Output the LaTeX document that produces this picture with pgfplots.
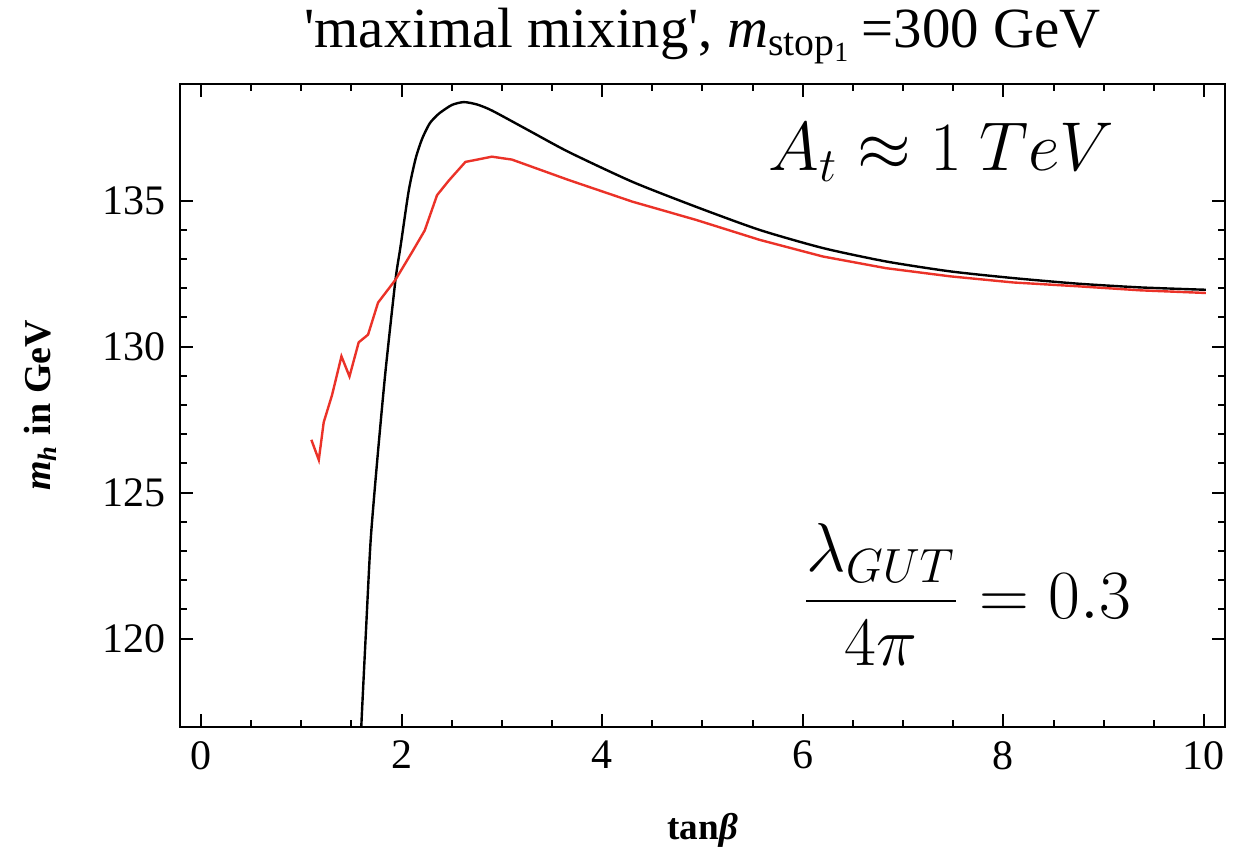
\documentclass[border=0pt]{standalone}
\usepackage{fontspec}
\setmainfont{Liberation Serif}
\usepackage{pgfplots}
\pgfplotsset{compat=1.18}
\definecolor{mred}{RGB}{235,50,40}
\begin{document}
\begin{tikzpicture}
\path[use as bounding box] (-45pt,-32.5pt) rectangle (268.75pt,181.75pt);
\begin{axis}[
  at={(0,0)}, anchor=south west,
  scale only axis,
  width=261.25pt, height=160.75pt,
  xmin=-0.21, xmax=10.21, ymin=116.97, ymax=139,
  xtick={0,2,...,10}, minor x tick num=3,
  ytick={120,125,130,135}, minor y tick num=4,
  major tick length=3.3pt, minor tick length=1.75pt,
  tick style={black, line width=0.5pt},
  axis line style={line width=0.7pt},
  tick label style={font=\fontsize{10.5}{12}\selectfont},
  /pgf/number format/assume math mode=true,
  title={\textquotesingle maximal mixing\textquotesingle, \textit{m}\textsubscript{stop\textsubscript{1}}\,=300 GeV},
  every axis title/.style={font=\fontsize{14.2}{16}\selectfont, at={(axis description cs:0.5,1)}, anchor=center, yshift=12pt},
  xlabel={tan\textit{β}},
  ylabel={\textit{m}\textsubscript{\textit{h}} in GeV},
  every axis x label/.style={at={(axis description cs:0.5,0)}, anchor=center, yshift=-25.75pt, font=\fontsize{9.3}{11}\selectfont\bfseries},
  every axis y label/.style={at={(axis description cs:0,0.5)}, xshift=-35pt, rotate=90, anchor=center, font=\fontsize{9.5}{11}\selectfont\bfseries},
  clip=true,
]
\addplot[black, line width=0.6pt, smooth, tension=0.4] coordinates {
(1.57,114.5) (1.598,117.0) (1.645,120.3) (1.692,123.41) (1.761,126.27) (1.838,129.12)
(1.938,132.27) (1.988,133.41) (2.071,135.35) (2.14,136.45) (2.204,137.12) (2.28,137.65) (2.37,137.98) (2.50,138.28)
(2.619,138.38) (2.75,138.30) (2.901,138.09) (3.267,137.41) (3.666,136.67) (4.30,135.65)
(4.93,134.80) (5.57,134.0) (6.20,133.38) (6.83,132.92) (7.47,132.58) (8.10,132.35)
(8.74,132.16) (9.37,132.03) (10.02,131.95)
};
\addplot[mred, line width=0.6pt] coordinates {
(1.10,126.81) (1.174,126.12) (1.223,127.41) (1.306,128.34) (1.40,129.67) (1.48,128.98)
(1.572,130.15) (1.665,130.41) (1.765,131.51) (1.938,132.29) (2.104,133.24) (2.23,133.98)
(2.353,135.19) (2.47,135.69) (2.636,136.33) (2.90,136.51) (3.10,136.41) (3.666,135.71)
(4.30,134.97) (4.93,134.35) (5.57,133.66) (6.20,133.09) (6.83,132.69) (7.47,132.41)
(8.10,132.20) (8.74,132.07) (9.37,131.93) (10.02,131.84)
};
\node[font=\fontsize{17.2}{20}\selectfont] at (axis cs:7.38,136.66) {$A_t \approx 1\ TeV$};
\node[font=\fontsize{17.85}{21}\selectfont] at (axis cs:7.63,121.5) {$\displaystyle\frac{\lambda_{GUT}}{4\pi}=0.3$};
\end{axis}
\end{tikzpicture}
\end{document}
